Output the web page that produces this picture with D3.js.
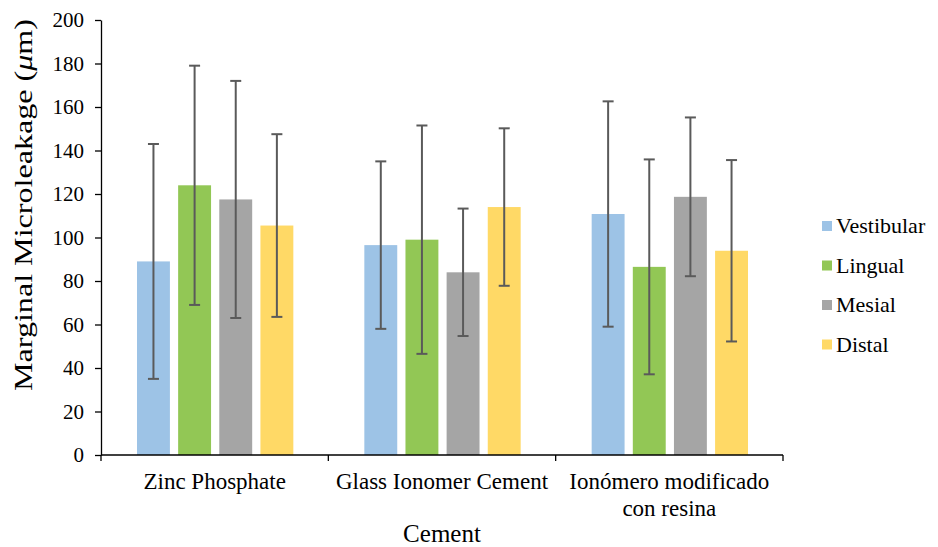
<!DOCTYPE html>
<html>
<head>
<meta charset="utf-8">
<script src="https://cdn.jsdelivr.net/npm/d3@7"></script>
<style>
  body { margin: 0; background: #fff; }
  svg text { font-family: "Liberation Serif", "Times New Roman", Times, "DejaVu Serif", serif; fill: #000; }
  .axis text { font-size: 21px; }
  .axis path, .axis line { stroke: #000; stroke-width: 1.3; }
</style>
</head>
<body>
<svg id="chart" width="938" height="547"></svg>
<script>
// Data
const categories = ['Zinc Phosphate', 'Glass Ionomer Cement', 'Ionómero modificado con resina']
const categoryLines = [['Zinc Phosphate'], ['Glass Ionomer Cement'], ['Ionómero modificado', 'con resina']]
const series = ['Vestibular', 'Lingual', 'Mesial', 'Distal']
const colors = ['#9dc3e6', '#92c755', '#a5a5a5', '#ffd966']
const means = [
  [89, 124, 117.5, 105.5],
  [96.5, 99, 84, 114],
  [110.8, 86.5, 118.7, 93.9]
]
const sds = [
  [54, 55, 54.5, 42],
  [38.5, 52.5, 29.3, 36.2],
  [51.8, 49.4, 36.5, 41.7]
]
const yTicks = [0, 20, 40, 60, 80, 100, 120, 140, 160, 180, 200]

const svg = d3.select('#chart')
const margin = { left: 101, top: 20 }
const plotW = 682
const plotH = 435

const x0 = d3.scaleBand().domain(categories).range([0, plotW]).padding(0)
const x1 = d3.scaleBand().domain(series).range([36, x0.bandwidth() - 35]).paddingInner(0.2).paddingOuter(0)
const y = d3.scaleLinear().domain([0, 200]).range([plotH, 0])

const g = svg.append('g').attr('transform', `translate(${margin.left},${margin.top})`)

// Y axis
g.append('g')
  .attr('class', 'axis')
  .call(d3.axisLeft(y).tickValues(yTicks).tickSize(6).tickPadding(11).tickSizeOuter(0))

// Bars
const groups = g.selectAll('.grp')
  .data(categories)
  .join('g')
  .attr('class', 'grp')
  .attr('transform', (d) => `translate(${x0(d)},0)`)

groups.selectAll('rect')
  .data((d, i) => series.map((s, j) => ({ s, j, v: means[i][j], e: sds[i][j] })))
  .join('rect')
  .attr('x', (d) => x1(d.s))
  .attr('y', (d) => y(d.v))
  .attr('width', x1.bandwidth())
  .attr('height', (d) => plotH - y(d.v))
  .attr('fill', (d) => colors[d.j])

// Error bars
const err = groups.selectAll('.err')
  .data((d, i) => series.map((s, j) => ({ s, j, v: means[i][j], e: sds[i][j] })))
  .join('g')
  .attr('class', 'err')
  .attr('stroke', '#5a5a5a')
  .attr('stroke-width', 2)
err.append('line')
  .attr('x1', (d) => x1(d.s) + x1.bandwidth() / 2)
  .attr('x2', (d) => x1(d.s) + x1.bandwidth() / 2)
  .attr('y1', (d) => y(d.v + d.e))
  .attr('y2', (d) => y(d.v - d.e))
err.selectAll('.cap')
  .data((d) => [d.v + d.e, d.v - d.e].map((v) => ({ v, cx: x1(d.s) + x1.bandwidth() / 2 })))
  .join('line')
  .attr('class', 'cap')
  .attr('x1', (d) => d.cx - 5.5)
  .attr('x2', (d) => d.cx + 5.5)
  .attr('y1', (d) => y(d.v))
  .attr('y2', (d) => y(d.v))

// X axis
const xAxis = g.append('g')
  .attr('class', 'axis')
  .attr('transform', `translate(0,${plotH})`)
xAxis.append('line').attr('x1', 0).attr('x2', plotW).attr('stroke', '#000').attr('stroke-width', 1.5)
xAxis.selectAll('.tk')
  .data(d3.range(categories.length + 1))
  .join('line')
  .attr('class', 'tk')
  .attr('x1', (i) => i < categories.length ? x0(categories[i]) : plotW)
  .attr('x2', (i) => i < categories.length ? x0(categories[i]) : plotW)
  .attr('y1', 0)
  .attr('y2', 6)
xAxis.selectAll('.lbl')
  .data(categories)
  .join('text')
  .attr('class', 'lbl')
  .attr('x', (d) => x0(d) + x0.bandwidth() / 2)
  .attr('y', 34)
  .attr('text-anchor', 'middle')
  .style('font-size', '23px')
  .each(function (d, i) {
    d3.select(this).selectAll('tspan')
      .data(categoryLines[i])
      .join('tspan')
      .attr('x', x0(d) + x0.bandwidth() / 2)
      .attr('dy', (t, k) => (k === 0 ? 0 : 27))
      .text((t) => t)
  })

// Axis titles
const yTitle = svg.append('text')
  .attr('transform', `translate(32,205) rotate(-90)`)
  .attr('text-anchor', 'middle')
  .attr('textLength', 372)
  .attr('lengthAdjust', 'spacingAndGlyphs')
  .style('font-size', '26px')
yTitle.append('tspan').text('Marginal Microleakage (')
yTitle.append('tspan').style('font-style', 'italic').text('μ')
yTitle.append('tspan').text('m)')

svg.append('text')
  .attr('x', margin.left + plotW / 2)
  .attr('y', 542)
  .attr('text-anchor', 'middle')
  .style('font-size', '25px')
  .text('Cement')

// Legend
const legend = svg.append('g').attr('transform', 'translate(822,226)')
const li = legend.selectAll('g')
  .data(series)
  .join('g')
  .attr('transform', (d, i) => `translate(0,${i * 39.5})`)
li.append('rect')
  .attr('x', 0).attr('y', -5)
  .attr('width', 10).attr('height', 10)
  .attr('fill', (d, i) => colors[i])
li.append('text')
  .attr('x', 14)
  .attr('y', 7)
  .style('font-size', '22px')
  .text((d) => d)
</script>
</body>
</html>
